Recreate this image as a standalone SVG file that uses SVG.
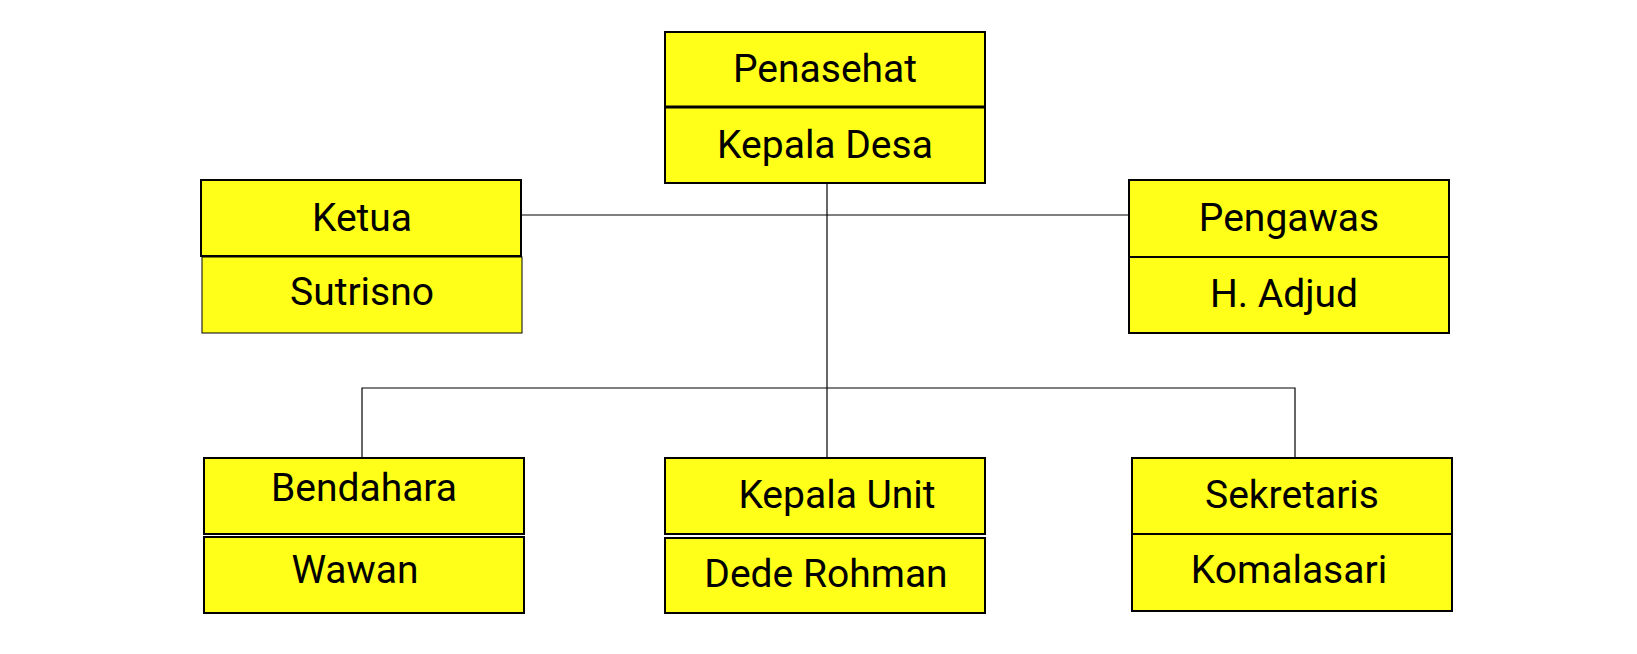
<svg xmlns="http://www.w3.org/2000/svg" width="1637" height="654" viewBox="0 0 1637 654">
<style>
.box{fill:#FFFF1A;stroke:#000;stroke-width:2}
.thin{fill:#FFFF1A;stroke:#000;stroke-width:1}
.t{font-family:Roboto,"Liberation Sans",sans-serif;font-size:39px;fill:#000;text-anchor:middle}
.c{fill:none;stroke:#000;stroke-width:1.2}
</style>
<rect width="1637" height="654" fill="#fff"/>
<g id="connectors">
<line class="c" x1="521" y1="215" x2="1129" y2="215"/>
<line class="c" x1="827" y1="184" x2="827" y2="458"/>
<polyline class="c" points="362,458 362,388 1295,388 1295,458"/>
</g>
<g id="penasehat">
<rect class="box" x="665" y="32" width="320" height="75"/>
<rect class="box" x="665" y="107" width="320" height="76"/>
<line x1="665" y1="107" x2="985" y2="107" stroke="#000" stroke-width="3"/>
<text class="t" x="825" y="82">Penasehat</text>
<text class="t" x="825" y="158">Kepala Desa</text>
</g>
<g id="ketua">
<rect class="box" x="201" y="180" width="320" height="76"/>
<rect class="thin" x="202" y="257" width="320" height="76"/>
<text class="t" x="362" y="231">Ketua</text>
<text class="t" x="362" y="305">Sutrisno</text>
</g>
<g id="pengawas">
<rect class="box" x="1129" y="180" width="320" height="77"/>
<rect class="box" x="1129" y="257" width="320" height="76"/>
<text class="t" x="1289" y="231">Pengawas</text>
<text class="t" x="1284" y="307">H. Adjud</text>
</g>
<g id="bendahara">
<rect class="box" x="204" y="458" width="320" height="76"/>
<rect class="box" x="204" y="537" width="320" height="76"/>
<text class="t" x="364" y="501">Bendahara</text>
<text class="t" x="355" y="583">Wawan</text>
</g>
<g id="kepala-unit">
<rect class="box" x="665" y="458" width="320" height="76"/>
<rect class="box" x="665" y="538" width="320" height="75"/>
<text class="t" x="837" y="508">Kepala Unit</text>
<text class="t" x="826" y="587">Dede Rohman</text>
</g>
<g id="sekretaris">
<rect class="box" x="1132" y="458" width="320" height="76"/>
<rect class="box" x="1132" y="534" width="320" height="77"/>
<text class="t" x="1292" y="508">Sekretaris</text>
<text class="t" x="1289" y="583">Komalasari</text>
</g>
</svg>
